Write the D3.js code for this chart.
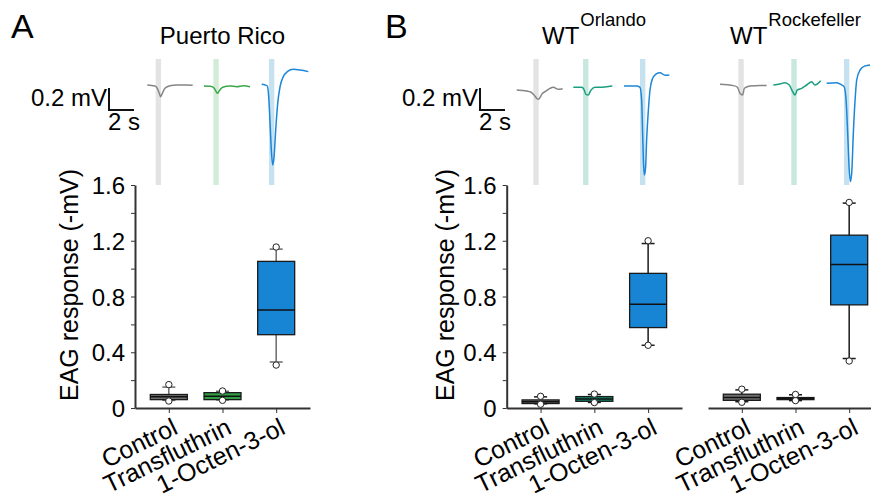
<!DOCTYPE html>
<html>
<head>
<meta charset="utf-8">
<script src="https://cdn.jsdelivr.net/npm/d3@7"></script>
<style>
    body{margin:0;background:#fff;}
    svg{display:block;font-family:"Liberation Sans",Arial,sans-serif;}
</style>
</head>
<body>
<script>
(function(){

    //categories and axis ticks
    var categories = ["Control", "Transfluthrin", "1-Octen-3-ol"];
    var yTickValues = [0, 0.2, 0.4, 0.6, 0.8, 1.0, 1.2, 1.4, 1.6];
    var yTickLabels = ["0", "", "0.4", "", "0.8", "", "1.2", "", "1.6"];

    //box stats per category: [lower whisker, q1, median, q3, upper whisker] (-mV)
    var puertoRicoStats = [[0.055, 0.06, 0.08, 0.097, 0.15], [0.058, 0.06, 0.085, 0.11, 0.12], [0.33, 0.526, 0.704, 1.052, 1.14]];
    var puertoRicoPoints = [[0.05, 0.168], [0.055, 0.122], [0.308, 1.155]];
    var orlandoStats = [[0.03, 0.032, 0.045, 0.058, 0.08], [0.04, 0.048, 0.065, 0.082, 0.097], [0.45, 0.577, 0.745, 0.966, 1.18]];
    var orlandoPoints = [[0.027, 0.084], [0.039, 0.1], [0.45, 1.2]];
    var rockefellerStats = [[0.045, 0.055, 0.075, 0.099, 0.13], [0.053, 0.06, 0.068, 0.075, 0.095], [0.355, 0.74, 1.03, 1.24, 1.47]];
    var rockefellerPoints = [[0.041, 0.135], [0.053, 0.097], [0.337, 1.475]];

    //example EAG traces: [time (s), voltage (mV)]
    var prControlTrace = [[0,0],[0.61,-0.009],[0.8,-0.03],[0.96,-0.076],[1.07,-0.106],[1.2,-0.076],[1.41,-0.03],[1.81,-0.006],[2.35,0],[3.01,0],[3.63,-0.003]];
    var prTransTrace = [[0,0],[0.48,-0.003],[0.75,-0.012],[0.93,-0.042],[1.07,-0.067],[1.23,-0.042],[1.49,-0.012],[2.08,0],[2.61,-0.006],[3.15,0.003],[3.68,-0.006]];
    var prOctenTrace = [[0,0],[0.27,-0.006],[0.45,-0.015],[0.56,-0.112],[0.67,-0.355],[0.77,-0.597],[0.88,-0.733],[0.99,-0.658],[1.12,-0.415],[1.28,-0.173],[1.47,-0.021],[1.73,0.07],[2.05,0.115],[2.53,0.136],[3.07,0.13],[3.73,0.115]];
    var orControlTrace = [[0,0],[0.8,-0.009],[1.12,-0.018],[1.39,-0.045],[1.6,-0.076],[1.73,-0.085],[1.87,-0.067],[2.0,-0.039],[2.27,-0.015],[2.67,0.015],[2.93,0.024],[3.33,0.006],[3.68,0.012]];
    var orTransTrace = [[0,0],[0.67,0],[0.85,-0.018],[1.01,-0.064],[1.2,-0.07],[1.39,-0.03],[1.73,0],[2.13,0],[2.67,0.006],[3.12,0.012]];
    var orOctenTrace = [[0,0],[1.01,0],[1.28,-0.012],[1.41,-0.127],[1.49,-0.43],[1.55,-0.673],[1.63,-0.809],[1.73,-0.733],[1.81,-0.491],[1.95,-0.218],[2.08,-0.036],[2.29,0.07],[2.56,0.109],[2.88,0.121],[3.28,0.097],[3.63,0.1]];
    var rkControlTrace = [[0,0],[1.07,-0.012],[1.39,-0.027],[1.6,-0.082],[1.81,-0.097],[1.95,-0.036],[2.4,-0.015],[3.2,-0.012],[3.73,-0.012]];
    var rkTransTrace = [[0,0],[0.53,0.009],[0.93,0.021],[1.28,0],[1.55,-0.061],[1.73,-0.091],[1.92,-0.045],[2.27,-0.03],[2.67,0],[3.07,0.03],[3.33,0],[3.79,0.039]];
    var rkOctenTrace = [[0,0],[0.8,0.006],[1.2,-0.015],[1.39,-0.03],[1.55,-0.152],[1.68,-0.455],[1.79,-0.758],[1.89,-0.894],[2.0,-0.818],[2.13,-0.455],[2.27,-0.152],[2.4,0.03],[2.67,0.121],[3.07,0.158],[3.47,0.167]];

    //stimulus onset for each trace (s)
    var prStim = [0.67, 0.75, 0.58];
    var orStim = [1.33, 0.78, 1.28];
    var rkStim = [1.47, 1.44, 1.38];
    var stimDuration = 0.43;

    //trace scaling
    var pxPerSec = 12.5,
        pxPerMv = 110;

    var width = 871,
        height = 498,
        plotTop = 185,
        plotBottom = 408,
        bandTop = 59;

    var svg = d3.select("body")
        .append("svg")
        .attr("width", width)
        .attr("height", height);

    var y = d3.scaleLinear()
        .domain([0, 1.6])
        .range([plotBottom, plotTop]);

    var boxColorsA = ["#6f6f6f", "#2f9e44", "#1884d4"],
        boxColorsB = ["#6f6f6f", "#0e8c6c", "#1884d4"],
        traceColorsA = ["#858585", "#3aa64a", "#1c86d8"],
        traceColorsB = ["#858585", "#1a9e80", "#1c86d8"],
        bandColorsA = ["#e3e3e3", "#d3ecd6", "#c6e1ef"],
        bandColorsB = ["#e3e3e3", "#c8e8df", "#c6e1ef"];

    //panel letters
    svg.append("text").attr("x", 11).attr("y", 38).attr("font-size", 34).text("A");
    svg.append("text").attr("x", 385).attr("y", 38).attr("font-size", 34).text("B");

    //titles
    svg.append("text")
        .attr("x", 222.5).attr("y", 44)
        .attr("text-anchor", "middle")
        .attr("font-size", 24)
        .text("Puerto Rico");
    makeSupTitle(542, "Orlando");
    makeSupTitle(730, "Rockefeller");

    function makeSupTitle(x, sup){
        var t = svg.append("text")
            .attr("x", x).attr("y", 44)
            .attr("font-size", 24);
        t.append("tspan").text("WT");
        t.append("tspan")
            .attr("dy", -18.5)
            .attr("dx", 1)
            .attr("font-size", 18.5)
            .text(sup);
    };

    //traces
    drawTraces([prControlTrace, prTransTrace, prOctenTrace], prStim, [147.3, 204, 261.7], [85, 86, 84.3], traceColorsA, bandColorsA);
    drawTraces([orControlTrace, orTransTrace, orOctenTrace], orStim, [516.7, 573.3, 624], [90, 87.3, 86], traceColorsB, bandColorsB);
    drawTraces([rkControlTrace, rkTransTrace, rkOctenTrace], rkStim, [720, 773.3, 826.7], [84.3, 85, 83.3], traceColorsB, bandColorsB);

    //scale bars
    drawScaleBar(109, 110);
    drawScaleBar(480, 110);

    //box plots
    drawBoxPanel(puertoRicoStats, puertoRicoPoints, [135, 310], true, boxColorsA, "#6a6a6a");
    drawBoxPanel(orlandoStats, orlandoPoints, [506.7, 682], true, boxColorsB, "#1a1a1a");
    drawBoxPanel(rockefellerStats, rockefellerPoints, [708, 883], false, boxColorsB, "#1a1a1a");

    //y axis titles
    [78, 454].forEach(function(x){
        svg.append("text")
            .attr("transform", "translate(" + x + ",285) rotate(-90)")
            .attr("text-anchor", "middle")
            .attr("font-size", 25)
            .text("EAG response (-mV)");
    });

    function drawTraces(traces, stims, x0s, y0s, colors, bands){
        traces.forEach(function(tr, i){
            var x = d3.scaleLinear().domain([0, 1]).range([x0s[i], x0s[i] + pxPerSec]);
            var v = d3.scaleLinear().domain([0, 1]).range([y0s[i], y0s[i] - pxPerMv]);

            //stimulus band
            svg.append("rect")
                .attr("x", x(stims[i]))
                .attr("y", bandTop)
                .attr("width", x(stims[i] + stimDuration) - x(stims[i]))
                .attr("height", plotTop - bandTop)
                .attr("fill", bands[i]);

            var line = d3.line()
                .x(function(d){ return x(d[0]); })
                .y(function(d){ return v(d[1]); })
                .curve(d3.curveMonotoneX);

            svg.append("path")
                .datum(tr)
                .attr("d", line)
                .attr("fill", "none")
                .attr("stroke", colors[i])
                .attr("stroke-width", 1.5);
        });
    };

    function drawScaleBar(x, yb){
        var h = 0.2 * pxPerMv,
            w = 2 * pxPerSec;
        svg.append("path")
            .attr("d", "M" + x + "," + (yb - h) + "V" + yb + "H" + (x + w))
            .attr("fill", "none")
            .attr("stroke", "#111")
            .attr("stroke-width", 2);
        svg.append("text")
            .attr("x", x - 2).attr("y", yb - 4)
            .attr("text-anchor", "end")
            .attr("font-size", 24)
            .text("0.2 mV");
        svg.append("text")
            .attr("x", x - 1).attr("y", yb + 20)
            .attr("font-size", 24)
            .text("2 s");
    };

    function drawBoxPanel(stats, points, range, showY, colors, whiskerColor){
        var x = d3.scalePoint()
            .domain(categories)
            .range(range)
            .padding(0.63);

        //x axis
        var xAxis = svg.append("g")
            .attr("transform", "translate(0," + plotBottom + ")")
            .call(d3.axisBottom(x).tickSize(5).tickSizeOuter(0).tickPadding(4));
        xAxis.select(".domain").attr("stroke", "#333").attr("stroke-width", 2);
        xAxis.selectAll(".tick line").attr("stroke", "#333").attr("stroke-width", 1);
        xAxis.selectAll(".tick text")
            .attr("font-size", 25)
            .attr("font-family", "Liberation Sans, Arial, sans-serif")
            .attr("fill", "#000")
            .attr("text-anchor", "end")
            .attr("dy", null)
            .attr("y", null)
            .attr("transform", "translate(10,25) rotate(-26)");

        if (showY){
            var yAxis = svg.append("g")
                .attr("transform", "translate(" + range[0] + ",0)")
                .call(d3.axisLeft(y)
                    .tickValues(yTickValues)
                    .tickFormat(function(d, i){ return yTickLabels[i]; })
                    .tickSize(4)
                    .tickSizeOuter(0)
                    .tickPadding(6));
            yAxis.select(".domain").attr("stroke", "#333").attr("stroke-width", 2);
            yAxis.selectAll(".tick line").attr("stroke", "#333").attr("stroke-width", 1);
            yAxis.selectAll(".tick text")
                .attr("font-size", 24)
                .attr("font-family", "Liberation Sans, Arial, sans-serif")
                .attr("fill", "#000")
                .attr("dy", "0.36em");
        };

        var boxW = 37,
            capW = 13;

        var boxes = svg.selectAll(null)
            .data(stats)
            .enter()
            .append("g")
            .attr("transform", function(d, i){
                return "translate(" + x(categories[i]) + ",0)";
            });

        //whiskers
        boxes.append("line")
            .attr("y1", function(d){ return y(d[0]); })
            .attr("y2", function(d){ return y(d[4]); })
            .attr("stroke", whiskerColor)
            .attr("stroke-width", 1.5);
        boxes.selectAll(".cap")
            .data(function(d){ return [d[0], d[4]]; })
            .enter()
            .append("line")
            .attr("class", "cap")
            .attr("x1", -capW / 2).attr("x2", capW / 2)
            .attr("y1", function(d){ return y(d); })
            .attr("y2", function(d){ return y(d); })
            .attr("stroke", whiskerColor)
            .attr("stroke-width", 1.5);

        //box
        boxes.append("rect")
            .attr("x", -boxW / 2)
            .attr("width", boxW)
            .attr("y", function(d){ return y(d[3]); })
            .attr("height", function(d){ return y(d[1]) - y(d[3]); })
            .attr("fill", function(d, i){ return colors[i]; })
            .attr("stroke", "#1a1a1a")
            .attr("stroke-width", 1.3);

        //median
        boxes.append("line")
            .attr("x1", -boxW / 2).attr("x2", boxW / 2)
            .attr("y1", function(d){ return y(d[2]); })
            .attr("y2", function(d){ return y(d[2]); })
            .attr("stroke", "#111")
            .attr("stroke-width", 1.5);

        //min and max points
        boxes.each(function(d, i){
            d3.select(this).selectAll("circle")
                .data(points[i])
                .enter()
                .append("circle")
                .attr("cy", function(p){ return y(p); })
                .attr("r", 3.2)
                .attr("fill", "#fff")
                .attr("stroke", "#222")
                .attr("stroke-width", 1);
        });
    };

})();
</script>
</body>
</html>
